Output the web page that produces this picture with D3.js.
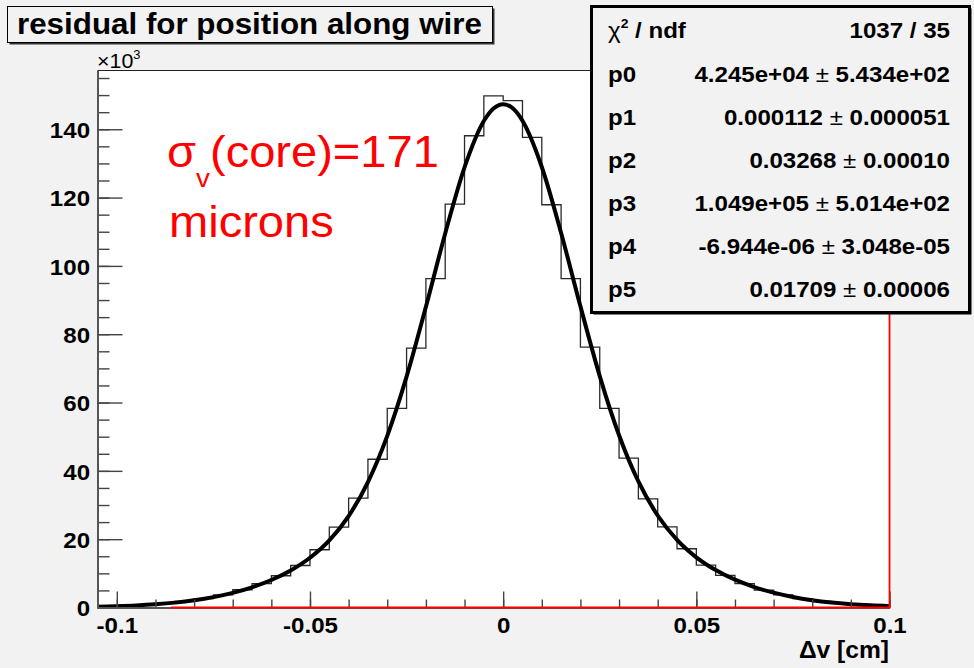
<!DOCTYPE html>
<html><head><meta charset="utf-8">
<script src="https://cdn.jsdelivr.net/npm/d3@7"></script>
<style>html,body{margin:0;padding:0;background:#f2f2f2;} svg{display:block;}</style>
</head><body><svg id="c" width="974" height="668"></svg>
<script>
// ---------- data ----------
const binCenters = [-0.1025,-0.0975,-0.0925,-0.0875,-0.0825,-0.0775,-0.0725,-0.0675,-0.0625,-0.0575,
  -0.0525,-0.0475,-0.0425,-0.0375,-0.0325,-0.0275,-0.0225,-0.0175,-0.0125,-0.0075,-0.0025,
  0.0025,0.0075,0.0125,0.0175,0.0225,0.0275,0.0325,0.0375,0.0425,0.0475,
  0.0525,0.0575,0.0625,0.0675,0.0725,0.0775,0.0825,0.0875,0.0925,0.0975];
const binCounts = [300,500,800,1200,1800,2600,3700,5200,7000,9300,
  12300,16900,23500,32000,43400,58300,75900,96300,118100,138100,149800,
  148400,137600,117900,96300,76200,58300,43700,31800,23600,17200,
  12400,9400,7000,5100,3700,2600,1750,1200,780,500];
const binWidth = 0.005;

const fitX = [-0.105,-0.1,-0.095,-0.09,-0.085,-0.08,-0.075,-0.07,-0.065,-0.06,-0.055,-0.05,-0.045,-0.04,
  -0.035,-0.03,-0.025,-0.02,-0.015,-0.01,-0.005,-0.0025,0,0.0025,0.005,0.01,0.015,0.02,0.025,0.03,
  0.035,0.04,0.045,0.05,0.055,0.06,0.065,0.07,0.075,0.08,0.085,0.09,0.095,0.1];
const fitY = [240,390,610,950,1430,2100,3030,4280,5910,8040,10830,14550,19650,26770,
  36720,50240,67580,88020,109510,128860,142440,146090,147350,146130,142480,128950,109630,88160,67750,50410,
  36890,26930,19800,14690,10950,8140,5990,4340,3080,2140,1460,970,630,400];

const xDomain = [-0.105, 0.1];
const yDomain = [0, 157200];
const xMajorTicks = [-0.1,-0.05,0,0.05,0.1];
const xMajorLabels = ["-0.1","-0.05","0","0.05","0.1"];
const xMinorTicks = [-0.1,-0.09,-0.08,-0.07,-0.06,-0.05,-0.04,-0.03,-0.02,-0.01,0,0.01,0.02,0.03,0.04,0.05,0.06,0.07,0.08,0.09,0.1];
const yMajorTicks = [0,20000,40000,60000,80000,100000,120000,140000];
const yMajorLabels = ["0","20","40","60","80","100","120","140"];
const yMinorTicks = d3.range(0, 157000, 5000);
const redLineFrom = -0.086;

const title = "residual for position along wire";
const xTitle = "\u0394v [cm]";
const statLabels = ["p0","p1","p2","p3","p4","p5"];
const statValA = ["4.245e+04","0.000112","0.03268","1.049e+05","-6.944e-06","0.01709"];
const statValB = ["5.434e+02","0.000051","0.00010","5.014e+02","3.048e-05","0.00006"];
const chiValue = "1037 / 35";

// ---------- drawing ----------
const W = 974, H = 668, SX = 1.07;
const FONT = "'Liberation Sans', Arial, sans-serif";
const svg = d3.select("#c");
svg.append("rect").attr("width", W).attr("height", H).attr("fill", "#f2f2f2");

const x = d3.scaleLinear().domain(xDomain).range([97.5, 889.5]);
const y = d3.scaleLinear().domain(yDomain).range([607.5, 70.5]);

// frame
svg.append("rect").attr("x", x(xDomain[0])).attr("y", y(yDomain[1]))
  .attr("width", x(xDomain[1]) - x(xDomain[0])).attr("height", y(0) - y(yDomain[1]))
  .attr("fill", "#ffffff");

// histogram outline
const histPts = [];
binCenters.forEach((c, i) => { histPts.push([c - binWidth/2, binCounts[i]]); histPts.push([c + binWidth/2, binCounts[i]]); });
svg.append("path").datum(histPts)
  .attr("d", d3.line().x(d => x(d[0])).y(d => y(d[1])))
  .attr("fill", "none").attr("stroke", "#2a2a2a").attr("stroke-width", 1.3);

// fit curve
svg.append("path").datum(fitX.map((v, i) => [v, fitY[i]]))
  .attr("d", d3.line().x(d => x(d[0])).y(d => y(d[1])).curve(d3.curveMonotoneX))
  .attr("fill", "none").attr("stroke", "#000").attr("stroke-width", 4)
  .attr("stroke-linejoin", "round");

function styleAxis(g) {
  g.selectAll("path.domain").attr("stroke", "#555").attr("stroke-width", 2);
  g.selectAll(".tick line").attr("stroke", "#444").attr("stroke-width", 1.4);
}
// y axis
const gyMinor = svg.append("g").attr("transform", `translate(${x(xDomain[0])},0)`)
  .call(d3.axisLeft(y).tickValues(yMinorTicks).tickFormat("").tickSizeInner(-12).tickSizeOuter(0));
gyMinor.select("path.domain").remove(); styleAxis(gyMinor);
const gy = svg.append("g").attr("transform", `translate(${x(xDomain[0])},0)`)
  .call(d3.axisLeft(y).tickValues(yMajorTicks).tickFormat((d, i) => yMajorLabels[i]).tickSizeInner(-25).tickSizeOuter(0).tickPadding(7));
styleAxis(gy);
gy.selectAll(".tick text").attr("font-family", FONT).attr("font-weight", "bold").attr("font-size", 22.5)
  .attr("fill", "#000").attr("dy", "0.37em").attr("transform", `scale(${SX},1)`);

// x axis
const gxMinor = svg.append("g").attr("transform", `translate(0,${y(0)})`)
  .call(d3.axisBottom(x).tickValues(xMinorTicks).tickFormat("").tickSizeInner(-8).tickSizeOuter(0));
gxMinor.select("path.domain").remove(); styleAxis(gxMinor);
const gx = svg.append("g").attr("transform", `translate(0,${y(0)})`)
  .call(d3.axisBottom(x).tickValues(xMajorTicks).tickFormat((d, i) => xMajorLabels[i]).tickSizeInner(-16).tickSizeOuter(0).tickPadding(9.5));
styleAxis(gx);
gx.selectAll(".tick text").attr("font-family", FONT).attr("font-weight", "bold").attr("font-size", 22.5)
  .attr("fill", "#000").attr("transform", `scale(${SX},1)`);

// top frame line
svg.append("line").attr("x1", x(xDomain[0])).attr("x2", x(xDomain[1]))
  .attr("y1", y(yDomain[1])).attr("y2", y(yDomain[1])).attr("stroke", "#222").attr("stroke-width", 1.2);

// red line along bottom and right edge
svg.append("path").datum([[redLineFrom, 0], [xDomain[1], 0], [xDomain[1], yDomain[1]]])
  .attr("d", d3.line().x(d => x(d[0])).y(d => y(d[1])))
  .attr("fill", "none").attr("stroke", "#ff0000").attr("stroke-width", 1.8);

function text(px, py, anchor, size, weight, fill) {
  return svg.append("text").attr("transform", `translate(${px},${py}) scale(${SX},1)`)
    .attr("text-anchor", anchor).attr("font-family", FONT).attr("font-size", size)
    .attr("font-weight", weight).attr("fill", fill);
}

// title box
svg.append("rect").attr("x", 9.5).attr("y", 8.5).attr("width", 485).attr("height", 36).attr("fill", "#333");
svg.append("rect").attr("x", 7.5).attr("y", 6.5).attr("width", 485).attr("height", 36)
  .attr("fill", "#f2f2f2").attr("stroke", "#000").attr("stroke-width", 1);
text(17, 34, "start", 29.3, "bold", "#000").text(title);

// x10^3
const t10 = text(97, 68, "start", 20, "normal", "#000").text("\u00d710");
t10.append("tspan").attr("font-size", 12).attr("dy", -9).text("3");

// red annotation
const tr = text(167, 167, "start", 44, "normal", "#ff0000").text("\u03c3");
tr.append("tspan").attr("font-size", 26).attr("dy", 20).text("v");
tr.append("tspan").attr("dy", -20).text("(core)=171");
text(169, 237, "start", 44, "normal", "#ff0000").text("microns");

// stats box
svg.append("rect").attr("x", 593.5).attr("y", 8.5).attr("width", 378).attr("height", 306).attr("fill", "#000");
svg.append("rect").attr("x", 591.5).attr("y", 6.5).attr("width", 378).attr("height", 306)
  .attr("fill", "#f2f2f2").attr("stroke", "#000").attr("stroke-width", 3);
const rowY = [38, 82, 124.5, 168, 211, 253.5, 297];
const chi = text(608, rowY[0], "start", 22.5, "bold", "#000");
chi.append("tspan").attr("font-weight", "normal").text("\u03c7");
chi.append("tspan").attr("font-size", 13).attr("dy", -10).text("2");
chi.append("tspan").attr("dy", 10).text(" / ndf");
text(950, rowY[0], "end", 22.5, "bold", "#000").text(chiValue);
statLabels.forEach((l, i) => {
  text(608, rowY[i + 1], "start", 22.5, "bold", "#000").text(l);
  const t = text(950, rowY[i + 1], "end", 22.5, "bold", "#000");
  t.append("tspan").text(statValA[i] + " ");
  t.append("tspan").attr("font-weight", "normal").text("\u00b1");
  t.append("tspan").text(" " + statValB[i]);
});

// x axis title
text(889, 658, "end", 23, "bold", "#000").text(xTitle);
</script>
</body></html>
